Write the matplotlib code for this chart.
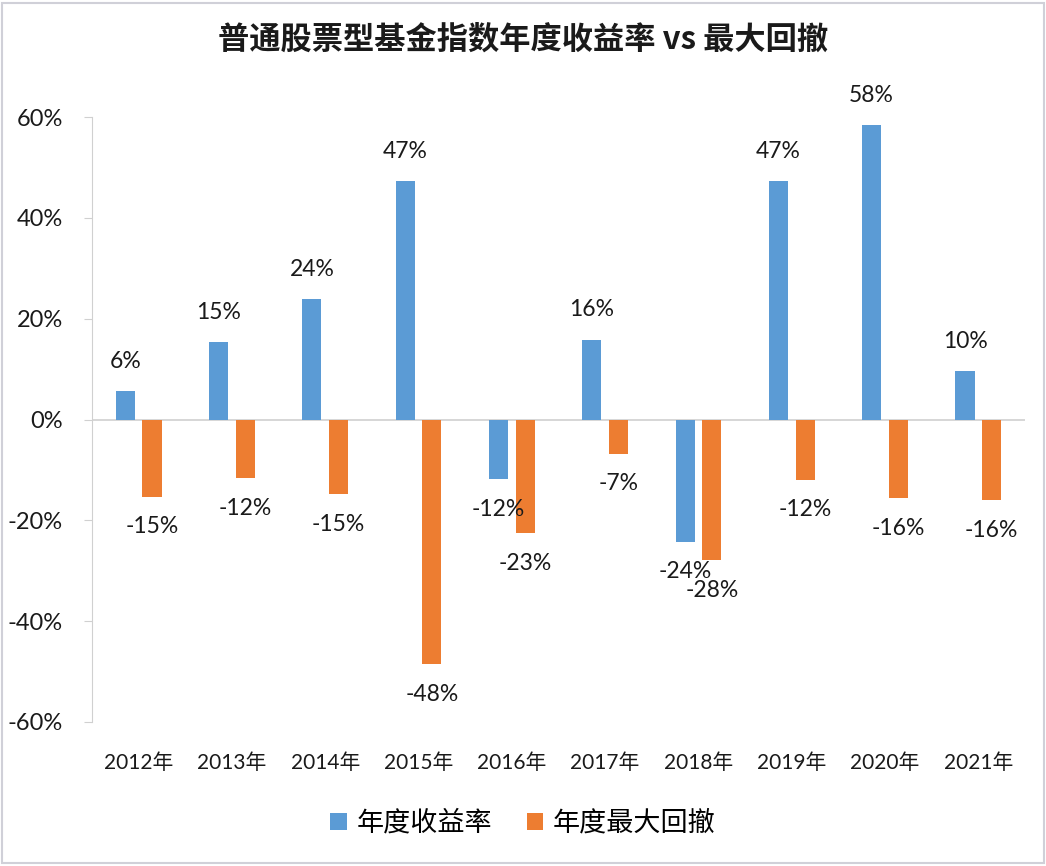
import matplotlib
matplotlib.use("Agg")
import matplotlib.pyplot as plt
from matplotlib.patches import Rectangle
import numpy as np

years = ["2012年", "2013年", "2014年", "2015年", "2016年", "2017年", "2018年", "2019年", "2020年", "2021年"]
annual_return = [5.6, 15.3, 23.9, 47.3, -11.9, 15.8, -24.2, 47.3, 58.4, 9.6]
max_drawdown = [-15.3, -11.7, -14.8, -48.5, -22.6, -6.8, -27.9, -12.0, -15.6, -16.0]
series_names = ["年度收益率", "年度最大回撤"]
yticks = [-60, -40, -20, 0, 20, 40, 60]
title = "普通股票型基金指数年度收益率 vs 最大回撤"

plt.rcParams['font.family'] = ['Lato', 'Noto Sans CJK SC', 'DejaVu Sans']

W, H = 1046, 866
fig = plt.figure(figsize=(W / 100, H / 100), dpi=100)
fig.patch.set_facecolor('white')
fig.patches.append(Rectangle((0.002, 0.003), 0.996, 0.994, transform=fig.transFigure,
                             fill=False, edgecolor='#D0D0D8', linewidth=1.5))

ax = fig.add_axes([92 / W, 1 - 722 / H, (1025 - 92) / W, (722 - 117) / H])

blue = '#5B9BD5'
orange = '#ED7D31'
x = np.arange(len(years))
off = 0.143
w = 0.205
b1 = ax.bar(x - off, np.array(annual_return) / 100, width=w, color=blue, label=series_names[0])
b2 = ax.bar(x + off, np.array(max_drawdown) / 100, width=w, color=orange, label=series_names[1])

for bars, vals in ((b1, annual_return), (b2, max_drawdown)):
    for rect, v in zip(bars, vals):
        cx = rect.get_x() + rect.get_width() / 2
        y = v / 100
        dy = 30 if v >= 0 else -30
        ax.annotate(f"{round(v):.0f}%", (cx, y), xytext=(0, dy), textcoords='offset pixels',
                    ha='center', va='center', fontsize=16.5, color='#1a1a1a')

ax.set_xlim(-0.5, len(years) - 0.5)
ax.set_ylim(-0.6, 0.6)
ax.set_yticks([t / 100 for t in yticks])
ax.set_yticklabels([f"{t}%" for t in yticks], fontsize=17, color='#1a1a1a')
ax.set_xticks(x)
ax.set_xticklabels(years, fontsize=15, color='#1a1a1a')
ax.tick_params(axis='x', length=0, pad=22)
ax.tick_params(axis='y', length=6, color='#D0D0D0', pad=15)
for s in ['top', 'right', 'bottom']:
    ax.spines[s].set_visible(False)
ax.spines['left'].set_color('#D0D0D0')
ax.axhline(0, color='#D0D0D0', linewidth=1.2, zorder=0)

fig.text(0.5, 1 - 40 / H, title, ha='center', va='center', fontsize=22.5, fontweight='bold',
         family=['Noto Sans CJK SC', 'DejaVu Sans'], color='#1a1a1a')

fig.legend(handles=[b1, b2], labels=series_names, loc='center', bbox_to_anchor=(0.5, 1 - 823 / H),
           ncol=2, frameon=False, fontsize=19.5, handlelength=0.6, handleheight=0.6,
           handletextpad=0.35, columnspacing=1.3)

fig.savefig("out.png", dpi=100, facecolor='white')
